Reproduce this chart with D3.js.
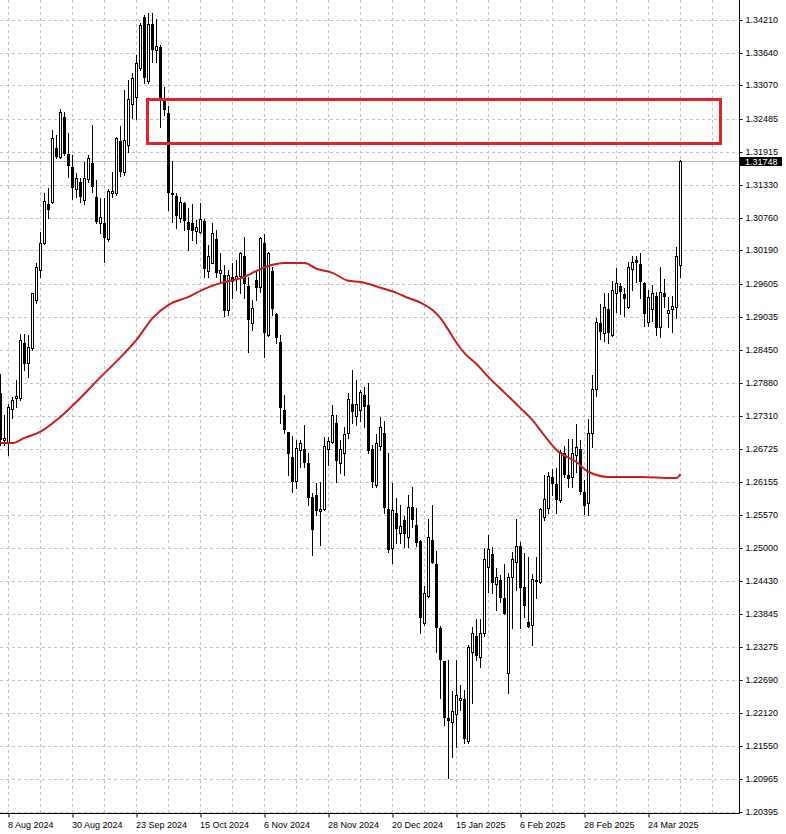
<!DOCTYPE html>
<html><head><meta charset="utf-8">
<script src="https://cdn.jsdelivr.net/npm/d3@7"></script>
<style>html,body{margin:0;padding:0;background:#fff;overflow:hidden}text{font-family:"Liberation Sans",Arial,sans-serif;font-size:9px}</style>
</head><body>
<svg id="c" width="786" height="834"></svg>
<script>
// ---- data (GBP/USD daily) ----
const open = [
1.2771,1.2689,1.2683,1.2743,1.2762,1.2762,1.2858,1.2823,1.2849,1.2933,
1.2985,1.3032,1.3100,1.3104,1.3198,1.3182,1.3252,1.3187,1.3165,1.3126,
1.3139,1.3107,1.3144,1.3172,1.3112,1.3067,1.3067,1.3039,1.3119,1.3119,
1.3210,1.3156,1.3203,1.3275,1.3287,1.3337,1.3426,1.3315,1.3414,1.3369,
1.3374,1.3283,1.3259,1.3119,1.3114,1.3076,1.3102,1.3069,1.3067,1.3053,
1.3051,1.3071,1.2983,1.2997,1.3039,1.2980,1.2976,1.2915,1.2973,1.2969,
1.2975,1.3009,1.2957,1.2893,1.2968,1.2955,1.3032,1.2872,1.2983,1.2908,
1.2859,1.2741,1.2703,1.2659,1.2617,1.2671,1.2673,1.2648,1.2589,1.2593,
1.2565,1.2568,1.2673,1.2685,1.2718,1.2648,1.2666,1.2701,1.2751,1.2730,
1.2741,1.2767,1.2750,1.2673,1.2610,1.2678,1.2701,1.2568,1.2500,1.2561,
1.2526,1.2549,1.2519,1.2572,1.2540,1.2512,1.2369,1.2416,1.2514,1.2472,
1.2361,1.2303,1.2204,1.2197,1.2211,1.2235,1.2237,1.2164,1.2319,1.2347,
1.2310,1.2352,1.2467,1.2490,1.2437,1.2444,1.2413,1.2282,1.2450,1.2476,
1.2504,1.2432,1.2371,1.2366,1.2443,1.2441,1.2554,1.2570,1.2624,1.2612,
1.2584,1.2666,1.2628,1.2624,1.2662,1.2673,1.2598,1.2579,1.2701,1.2778,
1.2893,1.2875,1.2917,1.2872,1.2945,1.2957,1.2943,1.2921,1.2987,1.3003,
1.2996,1.2962,1.2894,1.2917,1.2940,1.2886,1.2945,1.2910,1.2917,1.2921,
1.2994];
const high = [
1.2804,1.2732,1.2751,1.2764,1.2793,1.2873,1.2873,1.2872,1.2945,1.2997,
1.3051,1.3119,1.3128,1.3229,1.3221,1.3266,1.3261,1.3224,1.3186,1.3154,
1.3146,1.3173,1.3186,1.3238,1.3142,1.3111,1.3111,1.3126,1.3156,1.3217,
1.3236,1.3299,1.3317,1.3329,1.3360,1.3416,1.3430,1.3433,1.3433,1.3423,
1.3378,1.3304,1.3271,1.3175,1.3119,1.3112,1.3104,1.3093,1.3100,1.3072,
1.3102,1.3074,1.3029,1.3067,1.3055,1.3015,1.2994,1.2985,1.2997,1.3003,
1.3016,1.3043,1.2973,1.2933,1.2985,1.3043,1.3048,1.3016,1.2990,1.2910,
1.2872,1.2767,1.2703,1.2696,1.2689,1.2689,1.2715,1.2666,1.2596,1.2614,
1.2615,1.2694,1.2694,1.2750,1.2732,1.2689,1.2711,1.2771,1.2811,1.2793,
1.2776,1.2781,1.2788,1.2680,1.2699,1.2729,1.2722,1.2666,1.2614,1.2587,
1.2575,1.2556,1.2593,1.2607,1.2570,1.2514,1.2434,1.2551,1.2575,1.2495,
1.2364,1.2303,1.2305,1.2251,1.2305,1.2261,1.2252,1.2331,1.2362,1.2376,
1.2376,1.2500,1.2523,1.2502,1.2465,1.2453,1.2472,1.2457,1.2493,1.2551,
1.2511,1.2491,1.2484,1.2455,1.2484,1.2570,1.2628,1.2633,1.2638,1.2640,
1.2671,1.2678,1.2690,1.2690,1.2716,1.2689,1.2619,1.2725,1.2802,1.2901,
1.2926,1.2945,1.2945,1.2966,1.2989,1.2962,1.2954,1.2999,1.3009,1.3009,
1.3015,1.2964,1.2950,1.2959,1.2947,1.2990,1.2969,1.2938,1.2940,1.3025,
1.3177];
const low = [
1.2680,1.2680,1.2662,1.2727,1.2746,1.2758,1.2811,1.2798,1.2846,1.2928,
1.2973,1.3030,1.3076,1.3102,1.3180,1.3180,1.3186,1.3147,1.3109,1.3112,
1.3104,1.3100,1.3139,1.3121,1.3067,1.3050,1.2999,1.3036,1.3112,1.3116,
1.3149,1.3151,1.3191,1.3250,1.3248,1.3334,1.3311,1.3311,1.3348,1.3348,
1.3235,1.3255,1.3090,1.3069,1.3058,1.3069,1.3055,1.3020,1.3037,1.3032,
1.3050,1.2973,1.2973,1.2997,1.2973,1.2964,1.2905,1.2907,1.2936,1.2950,
1.2945,1.2936,1.2842,1.2880,1.2933,1.2947,1.2833,1.2870,1.2907,1.2858,
1.2718,1.2701,1.2628,1.2598,1.2605,1.2641,1.2641,1.2575,1.2488,1.2558,
1.2505,1.2566,1.2645,1.2683,1.2615,1.2631,1.2628,1.2692,1.2718,1.2715,
1.2722,1.2711,1.2666,1.2607,1.2607,1.2671,1.2561,1.2493,1.2474,1.2509,
1.2509,1.2502,1.2502,1.2537,1.2504,1.2352,1.2366,1.2415,1.2474,1.2319,
1.2238,1.2191,1.2099,1.2136,1.2153,1.2218,1.2160,1.2160,1.2230,1.2305,
1.2293,1.2347,1.2423,1.2422,1.2392,1.2406,1.2385,1.2247,1.2361,1.2427,
1.2361,1.2380,1.2362,1.2331,1.2413,1.2439,1.2549,1.2561,1.2593,1.2561,
1.2580,1.2624,1.2607,1.2607,1.2633,1.2594,1.2559,1.2558,1.2676,1.2765,
1.2865,1.2861,1.2858,1.2870,1.2912,1.2908,1.2905,1.2919,1.2950,1.2964,
1.2936,1.2887,1.2887,1.2896,1.2872,1.2868,1.2921,1.2886,1.2877,1.2901,
1.2973];
const close = [
1.2690,1.2692,1.2746,1.2758,1.2765,1.2863,1.2823,1.2851,1.2945,1.2990,
1.3032,1.3105,1.3091,1.3215,1.3184,1.3261,1.3189,1.3168,1.3130,1.3146,
1.3114,1.3146,1.3180,1.3132,1.3071,1.3078,1.3043,1.3123,1.3123,1.3215,
1.3158,1.3212,1.3283,1.3320,1.3346,1.3412,1.3322,1.3414,1.3371,1.3376,
1.3285,1.3266,1.3121,1.3118,1.3081,1.3104,1.3072,1.3057,1.3055,1.3060,
1.3074,1.2989,1.3009,1.3050,1.2982,1.2985,1.2915,1.2976,1.2966,1.2975,
1.3015,1.2962,1.2900,1.2919,1.2955,1.3041,1.2877,1.3015,1.2919,1.2868,
1.2746,1.2708,1.2666,1.2617,1.2675,1.2683,1.2650,1.2589,1.2533,1.2566,
1.2568,1.2678,1.2687,1.2732,1.2654,1.2673,1.2699,1.2760,1.2739,1.2751,
1.2772,1.2748,1.2671,1.2617,1.2683,1.2711,1.2572,1.2498,1.2566,1.2535,
1.2539,1.2526,1.2572,1.2551,1.2511,1.2380,1.2422,1.2519,1.2476,1.2362,
1.2307,1.2205,1.2200,1.2216,1.2244,1.2238,1.2169,1.2327,1.2352,1.2314,
1.2352,1.2481,1.2498,1.2441,1.2450,1.2415,1.2387,1.2450,1.2481,1.2504,
1.2432,1.2401,1.2364,1.2446,1.2444,1.2568,1.2586,1.2626,1.2614,1.2586,
1.2668,1.2629,1.2622,1.2666,1.2676,1.2600,1.2575,1.2701,1.2778,1.2894,
1.2879,1.2921,1.2877,1.2950,1.2962,1.2949,1.2936,1.2990,1.2999,1.2999,
1.2966,1.2910,1.2938,1.2945,1.2886,1.2947,1.2940,1.2915,1.2922,1.3009,
1.31748];

// moving average (read at selected bars)
const maBars   = [0,3,6,10,15,20,25,31,34,38,42,47,51,55,61,63,68,71,76,79,83,87,90,95,99,102,105,108,110,112,114,116,119,122,126,130,133,136,139,144,147,152,160,168,169,170];
const maValues = [1.2683,1.2683,1.2692,1.2703,1.2729,1.2762,1.2798,1.2840,1.2863,1.2901,1.2924,1.2938,1.2952,1.2962,1.2973,1.2980,1.2994,1.2997,1.2997,1.2987,1.2980,1.2966,1.2964,1.2954,1.2945,1.2936,1.2928,1.2915,1.2901,1.2880,1.2858,1.2840,1.2821,1.2798,1.2771,1.2744,1.2723,1.2696,1.2671,1.2650,1.2633,1.2624,1.2624,1.2622,1.2622,1.2629];

const yTicks = [1.34210,1.33640,1.33070,1.32485,1.31915,1.31330,1.30760,1.30190,1.29605,1.29035,1.28450,1.27880,1.27310,1.26725,1.26155,1.25570,1.25000,1.24430,1.23845,1.23275,1.22690,1.22120,1.21550,1.20965,1.20395];
const dateLabels    = ["8 Aug 2024","30 Aug 2024","23 Sep 2024","15 Oct 2024","6 Nov 2024","28 Nov 2024","20 Dec 2024","15 Jan 2025","6 Feb 2025","28 Feb 2025","24 Mar 2025"];
const dateLabelBars = [2,18,34,50,66,82,98,114,130,146,162];
const bidPrice = 1.31748;
const zoneBars = [36.5, 179.75];
const zonePrices = [1.3283, 1.3207];
const markerBar = 145.6, markerPrice = 1.2666;

// ---- layout ----
const plotRight = 740, plotBottom = 813;
const svg = d3.select("#c");
svg.append("rect").attr("width",786).attr("height",834).attr("fill","#fff");

const n = close.length;
const x = d3.scaleLinear().domain([0, n-1]).range([0.5, 4*(n-1)+0.5]);
const y = d3.scaleLinear().domain([1.20395, 1.34210]).range([812, 20]);
const py = v => Math.round(y(v)) + 0.5;

// grid
const grid = svg.append("g").attr("stroke","#c4c4c4").attr("stroke-dasharray","3,3").attr("shape-rendering","crispEdges");
grid.selectAll("line.h").data(yTicks).join("line").attr("class","h")
  .attr("x1",0).attr("x2",plotRight).attr("y1",d=>py(d)).attr("y2",d=>py(d));
const vBars = d3.range(2, 200, 8).filter(b => x(b) < plotRight-2);
grid.selectAll("line.v").data(vBars).join("line").attr("class","v")
  .attr("x1",d=>x(d)).attr("x2",d=>x(d)).attr("y1",0).attr("y2",plotBottom);

// bid line
svg.append("line").attr("x1",0).attr("x2",plotRight).attr("y1",py(bidPrice)).attr("y2",py(bidPrice))
  .attr("stroke","#bdbdbd").attr("shape-rendering","crispEdges");

// candles
const idx = d3.range(n);
const cg = svg.append("g").attr("shape-rendering","crispEdges");
cg.selectAll("line").data(idx).join("line")
  .attr("x1",i=>x(i)).attr("x2",i=>x(i))
  .attr("y1",i=>Math.round(y(high[i]))).attr("y2",i=>Math.round(y(low[i]))+1)
  .attr("stroke","#000");
cg.selectAll("rect").data(idx).join("rect")
  .attr("x",i=>x(i)-1).attr("width",2)
  .attr("y",i=>py(Math.max(open[i],close[i])))
  .attr("height",i=>Math.max(0, py(Math.min(open[i],close[i])) - py(Math.max(open[i],close[i]))))
  .attr("fill",i=> close[i] >= open[i] ? "#fff" : "#000")
  .attr("stroke","#000");

// moving average
const ma = maBars.map((b,i)=>[b, maValues[i]]);
svg.append("path").datum(ma)
  .attr("d", d3.line().x(d=>x(d[0])).y(d=>y(d[1])).curve(d3.curveMonotoneX))
  .attr("fill","none").attr("stroke","#c81e1e").attr("stroke-width",2);

// zone rectangle
svg.append("rect")
  .attr("x", Math.round(x(zoneBars[0]))+0.5).attr("y", py(zonePrices[0]))
  .attr("width", Math.round(x(zoneBars[1]) - x(zoneBars[0])))
  .attr("height", py(zonePrices[1]) - py(zonePrices[0]))
  .attr("fill","none").attr("stroke","#e0232d").attr("stroke-width",3);

// small marker
svg.append("rect").attr("x",Math.round(x(markerBar))).attr("y",Math.round(y(markerPrice))-1)
  .attr("width",2).attr("height",2).attr("fill","#3fd9e6");

// axes
const yAxis = d3.axisRight(y).tickValues(yTicks).tickSize(3).tickPadding(3).tickFormat(d3.format(".5f"));
const ya = svg.append("g").attr("transform",`translate(${plotRight-0.5},0)`).call(yAxis);
ya.select(".domain").remove();
ya.selectAll("text").attr("fill","#000").style("font-family",'"Liberation Sans",Arial,sans-serif').style("font-size","9px");
ya.selectAll(".tick line").attr("stroke","#000");
ya.selectAll(".tick").attr("transform", d => `translate(0,${py(d)})`);

const xAxis = d3.axisBottom(x).tickValues(dateLabelBars).tickSize(4).tickPadding(4).tickFormat((d,i)=>dateLabels[i]);
const xa = svg.append("g").attr("transform",`translate(0,${plotBottom+0.5})`).call(xAxis);
xa.select(".domain").remove();
xa.selectAll("text").attr("text-anchor","start").attr("x",-1).attr("fill","#000")
  .style("font-family",'"Liberation Sans",Arial,sans-serif').style("font-size","9px");
xa.selectAll(".tick line").attr("stroke","#000");

// frame lines
svg.append("line").attr("x1",plotRight-0.5).attr("x2",plotRight-0.5).attr("y1",0).attr("y2",plotBottom+1)
  .attr("stroke","#000").attr("shape-rendering","crispEdges");
svg.append("line").attr("x1",0).attr("x2",plotRight).attr("y1",plotBottom+0.5).attr("y2",plotBottom+0.5)
  .attr("stroke","#000").attr("shape-rendering","crispEdges");

// bid label
const by = py(bidPrice);
svg.append("rect").attr("x",740).attr("y",by-4.5).attr("width",42).attr("height",9).attr("fill","#000");
svg.append("text").attr("x",745).attr("y",by).attr("dy","0.34em").attr("fill","#fff").text(d3.format(".5f")(bidPrice));
</script>
</body></html>
